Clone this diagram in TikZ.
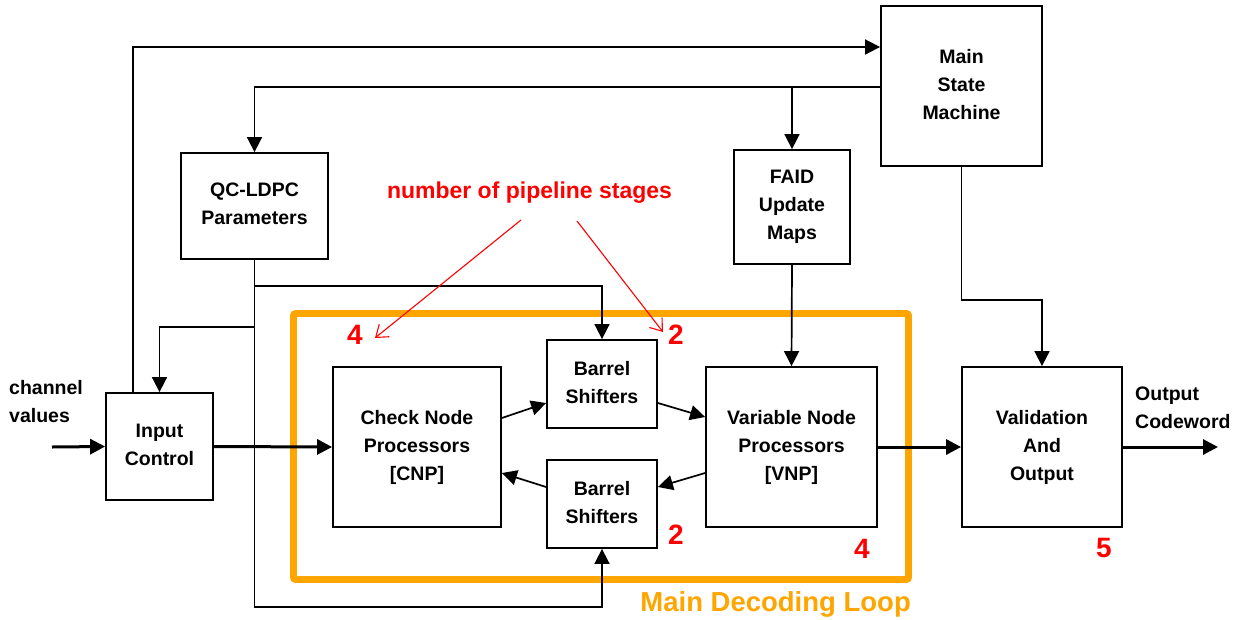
\documentclass[tikz,border=0pt]{standalone}
\usepackage{fontspec}
\setmainfont{Liberation Sans}
\usetikzlibrary{arrows.meta,calc}
\definecolor{loopor}{HTML}{FFA500}
\definecolor{annred}{HTML}{FF0000}
\newcommand\boxfont{\bfseries\fontsize{19.5}{28}\selectfont}
\newcommand\lift{\rule[-4pt]{0pt}{4pt}}
\begin{document}
\begin{tikzpicture}[x=1pt,y=-1pt,
  box/.style={draw, line width=1.8pt, inner sep=0pt, align=center, font=\boxfont, fill=white},
  arr/.style={line width=1.7pt, -{Triangle[length=15pt,width=15pt]}},
  tarr/.style={line width=3pt, -{Triangle[length=15pt,width=15pt]}},
  redarr/.style={annred, line width=1.1pt, -{Straight Barb[length=11pt,width=16pt]}},
  lbl/.style={font=\boxfont, align=left, inner sep=0pt},
  num/.style={annred, font=\bfseries\fontsize{28}{30}\selectfont, inner sep=0pt},
  loopbox/.style={draw=loopor, line width=6.7pt, rounded corners=2pt, inner sep=0pt}
]
\useasboundingbox (0,0) rectangle (1234,619);

% orange main decoding loop
\node[loopbox, minimum width=615pt, minimum height=266pt] (loop) at (601,446.5) {};
\node[anchor=base east, text=loopor, inner sep=0pt,
      font=\bfseries\fontsize{27.5}{29}\selectfont] (looplbl) at (911,611) {Main Decoding Loop};

% boxes
\node[box, minimum width=107pt, minimum height=107pt] (inctl) at (159.5,446.5) {Input\\Control\lift};
\node[box, minimum width=147pt, minimum height=106pt] (qc) at (254.5,206) {QC-LDPC\\Parameters\lift};
\node[box, minimum width=116pt, minimum height=114pt] (faid) at (792,207) {FAID\\Update\\Maps\lift};
\node[box, minimum width=161pt, minimum height=160pt] (msm) at (961.5,86) {Main\\State\\Machine\lift};
\node[box, minimum width=168pt, minimum height=160pt] (cnp) at (417,447) {Check Node\\Processors\\{[CNP]}\lift};
\node[box, minimum width=110pt, minimum height=88pt] (bst) at (602,384) {Barrel\\Shifters\lift\lift};
\node[box, minimum width=110pt, minimum height=88pt] (bsb) at (602,504) {Barrel\\Shifters\lift\lift};
\node[box, minimum width=171pt, minimum height=160pt] (vnp) at (791.5,447) {Variable Node\\Processors\\{[VNP]}\lift};
\node[box, minimum width=160pt, minimum height=160pt] (val) at (1042,447) {Validation\\And\\Output\lift};

% outside labels
\node[lbl, anchor=west] (chlbl) at (9,402) {channel\\values};
\node[lbl, anchor=west] (outlbl) at (1135,408) {Output\\Codeword};
\coordinate (chin) at (52,447);
\coordinate (outend) at (1218,447);

% connectors
\draw[tarr] (chin) -- (inctl.west);
\draw[tarr] (inctl.east) -- (cnp.west);
\draw[arr] (133,0 |- inctl.north) -- (133,47) -- (msm.west |- 0,47);
\draw[arr] (msm.west |- 0,87) -- (qc.north |- 0,87) -- (qc.north);
\draw[arr] (faid.north |- 0,87) -- (faid.north);
\draw[arr] (qc.south) -- (qc.south |- 0,607) -| (bsb.south);
\draw[arr] (qc.south |- 0,286) -| (bst.north);
\draw[arr] (qc.south |- 0,327) -| (inctl.north);
\draw[arr] (faid.south) -- (vnp.north);
\draw[arr] (msm.south) -- (msm.south |- 0,300) -| (val.north);
\draw[tarr] (vnp.east) -- (val.west);
\draw[tarr] (val.east) -- (outend);
\draw[arr] ([yshift=29pt]cnp.east) -- ([yshift=-19pt]bst.west);
\draw[arr] ([yshift=-19pt]bst.east) -- ([yshift=30pt]vnp.west);
\draw[arr] ([yshift=-26pt]vnp.west) -- ([yshift=17pt]bsb.east);
\draw[arr] ([yshift=17pt]bsb.west) -- ([yshift=-26pt]cnp.east);

% annotations
\node[annred, font=\bfseries\fontsize{23}{25}\selectfont, inner sep=0pt] (rtext) at (529.5,193) {number of pipeline stages};
\coordinate (ra1) at (521,220);
\coordinate (rb1) at (375,338);
\coordinate (ra2) at (577,221);
\coordinate (rb2) at (663,332);
\draw[redarr] (ra1) -- (rb1);
\draw[redarr] (ra2) -- (rb2);
\node[num] (n4a) at (355,335) {4};
\node[num] (n2a) at (676,335) {2};
\node[num] (n2b) at (676,535) {2};
\node[num] (n4b) at (862,549) {4};
\node[num] (n5) at (1104,548) {5};
\end{tikzpicture}
\end{document}
